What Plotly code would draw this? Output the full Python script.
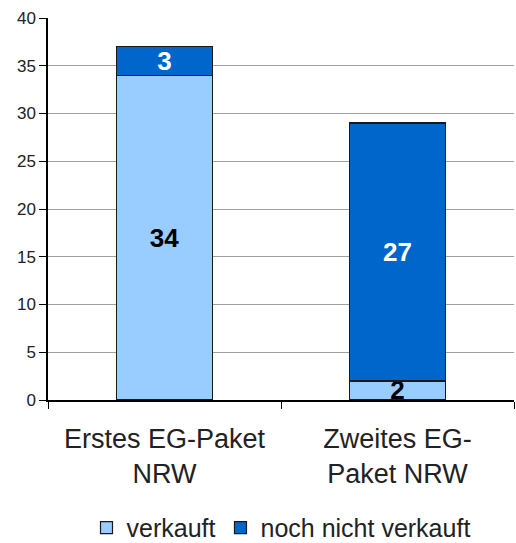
import plotly.graph_objects as go

categories = ["Erstes EG-Paket<br>NRW", "Zweites EG-<br>Paket NRW"]
verkauft = [34, 2]
noch_nicht_verkauft = [3, 27]
series_names = ["verkauft", "noch nicht verkauft"]
y_ticks = [0, 5, 10, 15, 20, 25, 30, 35, 40]

FONT = "Arial, Liberation Sans, sans-serif"

fig = go.Figure()
fig.add_trace(go.Bar(
    x=categories, y=verkauft, name=series_names[0],
    marker=dict(color="#99CCFF", line=dict(color="#1a1a1a", width=1.2)),
    texttemplate="%{y}", textposition="inside", insidetextanchor="middle",
    constraintext="none", textangle=0,
    textfont=dict(family=FONT, size=26, color="#000000", weight="bold"),
))
fig.add_trace(go.Bar(
    x=categories, y=noch_nicht_verkauft, name=series_names[1],
    marker=dict(color="#0066CC", line=dict(color="#1a1a1a", width=1.2)),
    texttemplate="%{y}", textposition="inside", insidetextanchor="middle",
    constraintext="none", textangle=0,
    textfont=dict(family=FONT, size=26, color="#FFFFFF", weight="bold"),
))

fig.update_layout(
    barmode="stack",
    bargap=0.59,
    width=516, height=543,
    margin=dict(l=48, r=2, t=18, b=143, autoexpand=False),
    plot_bgcolor="white", paper_bgcolor="white",
    font=dict(family=FONT, color="#222222"),
    showlegend=True,
    legend=dict(
        orientation="h", x=0.5, xanchor="center",
        yref="paper", y=-0.335, yanchor="middle",
        font=dict(family=FONT, size=25, color="#222222"),
        itemwidth=30, traceorder="normal",
    ),
    xaxis=dict(
        automargin=False,
        showline=True, linecolor="#000000", linewidth=1.5,
        ticks="outside", tickson="boundaries", ticklen=7, tickcolor="#000000",
        tickfont=dict(family=FONT, size=27, color="#222222"),
        ticklabelstandoff=14,
        showgrid=False,
    ),
    yaxis=dict(
        automargin=False,
        range=[0, 40], tickvals=y_ticks,
        showline=True, linecolor="#000000", linewidth=1.5,
        ticks="outside", ticklen=7, tickcolor="#000000",
        tickfont=dict(family=FONT, size=17, color="#222222"),
        showgrid=True, gridcolor="#A0A0A0", gridwidth=1.3,
        zeroline=False,
    ),
)

fig.write_html(
    "out.html",
    config={"displayModeBar": False},
    post_script="document.body.style.margin='0';document.body.style.padding='0';",
)
